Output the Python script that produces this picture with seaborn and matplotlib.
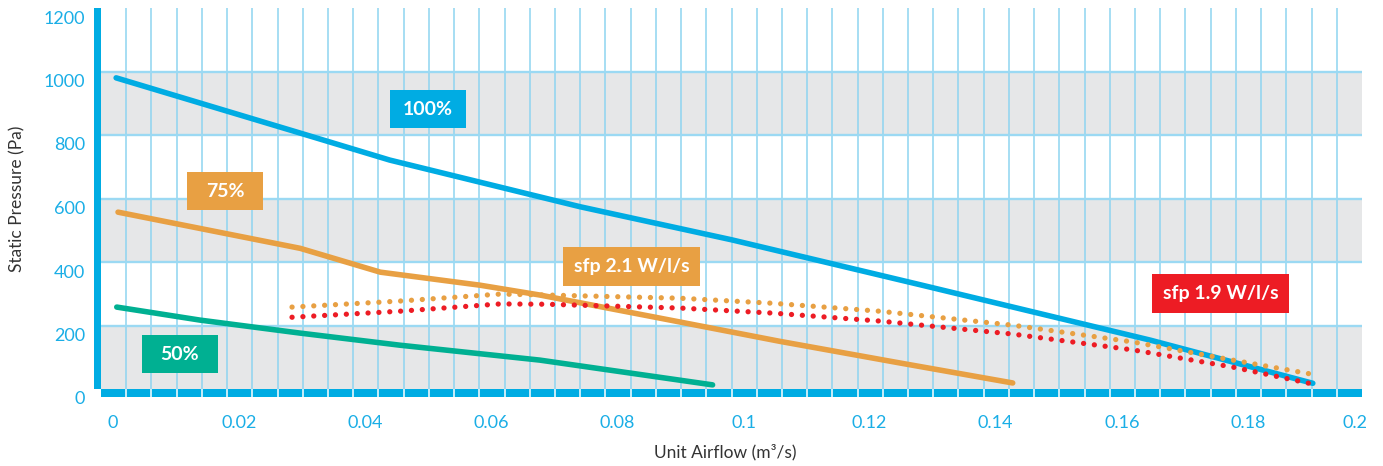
import matplotlib
matplotlib.use("Agg")
import matplotlib.pyplot as plt
import matplotlib.transforms as mtransforms
from matplotlib.patches import Rectangle
import numpy as np
import seaborn as sns

# fan curves
airflow_100 = [0.0024, 0.0316, 0.0458, 0.076, 0.100, 0.130, 0.1664, 0.1922]
pressure_100 = [980, 806, 721, 574, 470, 328, 154, 18]

airflow_75 = [0.0027, 0.0316, 0.0443, 0.0601, 0.0696, 0.0887, 0.1077, 0.1267, 0.1446]
pressure_75 = [557, 443, 368, 327, 296, 223, 150, 82, 19]

airflow_50 = [0.0025, 0.0157, 0.0316, 0.0474, 0.0696, 0.097]
pressure_50 = [258, 217, 176, 138, 91, 13]

# sfp boundaries
airflow_sfp21 = [0.0303, 0.0474, 0.0633, 0.0706, 0.0918, 0.1066, 0.1235, 0.1446, 0.1637, 0.1795, 0.1928]
pressure_sfp21 = [258, 277, 299, 296, 286, 270, 245, 201, 148, 91, 44]

airflow_sfp19 = [0.0303, 0.0474, 0.0633, 0.0706, 0.0918, 0.1066, 0.1235, 0.1446, 0.1637, 0.1795, 0.1928]
pressure_sfp19 = [226, 245, 268, 267, 255, 239, 214, 173, 123, 69, 13]

x_ticks = [0, 0.02, 0.04, 0.06, 0.08, 0.1, 0.12, 0.14, 0.16, 0.18, 0.2]
x_ticklabels = ["0", "0.02", "0.04", "0.06", "0.08", "0.1", "0.12", "0.14", "0.16", "0.18", "0.2"]
y_ticks = [0, 200, 400, 600, 800, 1000, 1200]

# label boxes: text, centre x, centre y, width, height
box_labels = ["100%", "75%", "50%", "sfp 2.1 W/l/s", "sfp 1.9 W/l/s"]
box_x = [0.0519, 0.0197, 0.0125, 0.0842, 0.1776]
box_y = [881, 623, 110, 387, 302]
box_w = [0.0121, 0.0121, 0.0121, 0.0217, 0.0217]
box_h = [120, 120, 120, 123, 123]

BLUE = "#00ace3"
ORANGE = "#e8a043"
GREEN = "#00b092"
RED = "#ed1c24"
GRID = "#8ed4f0"
BAND = "#e6e7e8"
TICK = "#1aaee6"
box_colors = [BLUE, ORANGE, GREEN, ORANGE, RED]

sns.set_style("white")
plt.rcParams["font.family"] = ["Lato", "DejaVu Sans"]

W, H = 1383, 466
fig = plt.figure(figsize=(W / 100, H / 100), dpi=100)
ax = fig.add_axes([101 / W, (H - 389) / H, 1261 / W, 381 / H])
ax.set_xlim(0, 0.2)
ax.set_ylim(0, 1200)

# grey bands + grid
for lo in (0, 400, 800):
    ax.axhspan(lo, lo + 200, color=BAND, lw=0, zorder=0)
grid_x = np.arange(1, 50) * 0.004
ax.vlines(grid_x, 0, 1200, color=GRID, lw=1.1, zorder=1)
for yv in (200, 400, 600, 800, 1000):
    ax.axhline(yv, color="#9bd9f3", lw=1.7, zorder=1)

# axis bars
xpx = 0.2 / 1261
ypx = 1200 / 381
ax.add_patch(Rectangle((0, -8 * ypx), 0.2, 8 * ypx, color=BLUE, lw=0, clip_on=False, zorder=3))
ax.vlines(grid_x, -8 * ypx, 0, color="white", lw=1.1, clip_on=False, zorder=4)
ax.add_patch(Rectangle((-7 * xpx, 0), 7 * xpx, 1200, color=BLUE, lw=0, clip_on=False, zorder=3))

lw = 4.0
sns.lineplot(x=airflow_100, y=pressure_100, color=BLUE, lw=lw, solid_capstyle="round", ax=ax, zorder=5)
sns.lineplot(x=airflow_75, y=pressure_75, color=ORANGE, lw=lw, solid_capstyle="round", ax=ax, zorder=5)
sns.lineplot(x=airflow_50, y=pressure_50, color=GREEN, lw=lw, solid_capstyle="round", ax=ax, zorder=5)

dots = (0, (0.01, 2.05))
sns.lineplot(x=airflow_sfp21, y=pressure_sfp21, color=ORANGE, lw=3.8, linestyle=dots,
             dash_capstyle="round", ax=ax, zorder=6)
sns.lineplot(x=airflow_sfp19, y=pressure_sfp19, color=RED, lw=3.8, linestyle=dots,
             dash_capstyle="round", ax=ax, zorder=6)

for t, cx, cy, w, h, c in zip(box_labels, box_x, box_y, box_w, box_h, box_colors):
    ax.add_patch(Rectangle((cx - w / 2, cy - h / 2), w, h, color=c, lw=0, zorder=7))
    ax.text(cx, cy, t, color="white", fontsize=14, fontweight="bold",
            ha="center", va="center", zorder=8)

for s in ax.spines.values():
    s.set_visible(False)

ax.set_xticks(x_ticks)
ax.set_xticklabels(x_ticklabels)
ax.set_yticks(y_ticks)
ax.tick_params(axis="both", length=0, labelsize=13, labelcolor=TICK)
ax.tick_params(axis="x", pad=19)
ax.tick_params(axis="y", pad=11.5)

for lab in ax.get_yticklabels():
    lab.set_transform(lab.get_transform() + mtransforms.ScaledTranslation(0, -0.09, fig.dpi_scale_trans))
xlabs = ax.get_xticklabels()
for i, lab in enumerate(xlabs):
    dx = -0.07 if i == len(xlabs) - 1 else 0.12
    lab.set_transform(lab.get_transform() + mtransforms.ScaledTranslation(dx, 0, fig.dpi_scale_trans))

ax.set_xlabel("Unit Airflow (m³/s)", fontsize=12.5, color="#333333")
ax.set_ylabel("Static Pressure (Pa)", fontsize=12.5, color="#333333")
ax.xaxis.label.set_va("center")
ax.yaxis.label.set_va("center")
ax.xaxis.set_label_coords((725 - 101) / 1261, (389 - 452) / 381)
ax.yaxis.set_label_coords((17 - 101) / 1261, 0.5)

fig.savefig("out.png", dpi=100, facecolor="white")
